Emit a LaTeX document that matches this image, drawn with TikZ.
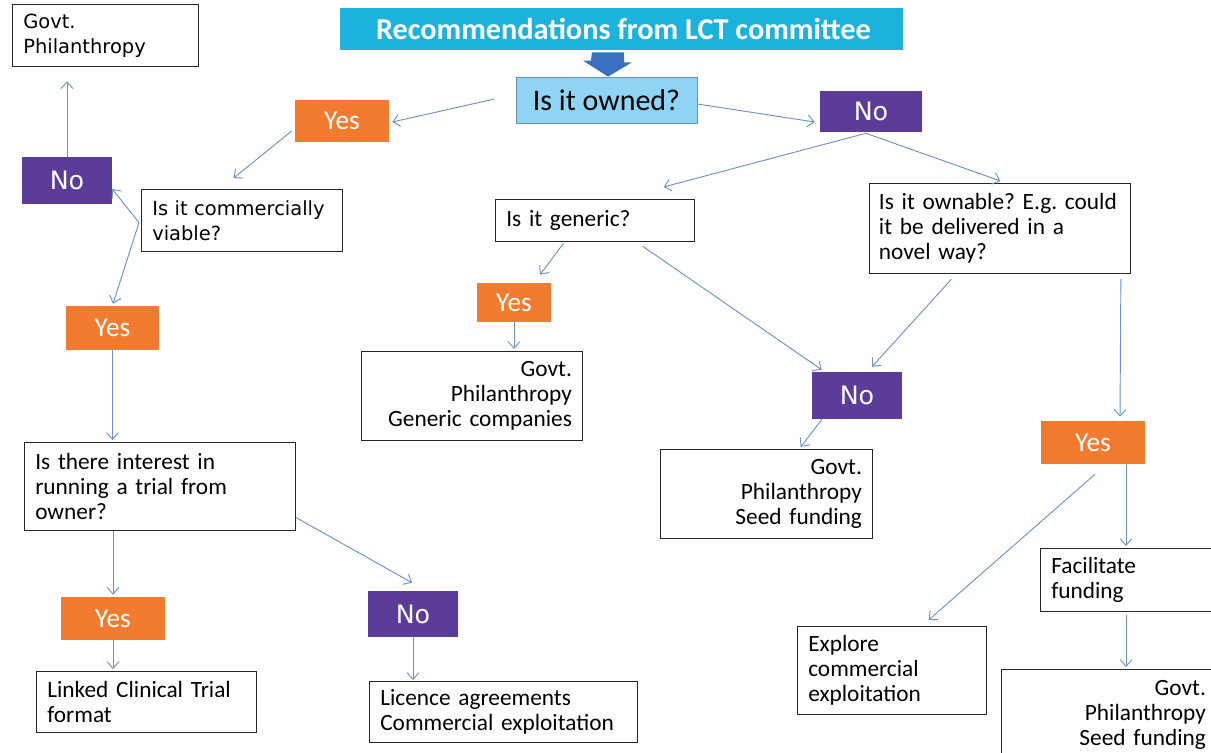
\documentclass[tikz,border=0pt]{standalone}
\usepackage{fontspec}
\setmainfont{Carlito}
\newfontfamily\vfont{DejaVu Sans}
\usetikzlibrary{calc,arrows.meta}
\definecolor{lctcyan}{HTML}{1BB3DB}
\definecolor{ownblue}{HTML}{8FD4F5}
\definecolor{yesorange}{HTML}{F37B2F}
\definecolor{nopurple}{HTML}{5B3C99}
\definecolor{linkblue}{HTML}{6E93C4}
\definecolor{flowblue}{HTML}{3B6FC0}
\frenchspacing

\begin{document}
\begin{tikzpicture}[x=0.75pt,y=-0.75pt,
    txt/.style={draw=black!85, line width=0.9pt, fill=white, anchor=north west, align=left,
      inner xsep=8pt, inner ysep=0pt, font=\fontsize{17.5}{18.75}\selectfont},
    rtxt/.style={txt, align=right},
    vtxt/.style={txt, font=\vfont\fontsize{14.6}{18.75}\selectfont},
    yes/.style={fill=yesorange, text=white, inner sep=0pt, font=\fontsize{20.5}{22}\selectfont},
    no/.style={fill=nopurple, text=white, inner sep=0pt, font=\vfont\fontsize{19}{21}\selectfont},
    link/.style={draw=linkblue, line width=0.7pt, -{Straight Barb[length=5pt,width=9pt]}}]
    \useasboundingbox[fill=white] (0,0) rectangle (1211,753);

    % top
    \node[fill=lctcyan, text=white, minimum width=422.25pt, minimum height=31.5pt,
      font=\bfseries\fontsize{22.7}{24}\selectfont] (lct) at (621.5,29) {\hspace*{3pt}Recommendations from LCT committee};
    \node[fill=ownblue, draw=ownblue!70!black, line width=0.6pt, minimum width=135.75pt, minimum height=34.5pt,
      font=\fontsize{22.5}{24}\selectfont] (owned) at (606.5,100) {Is it owned?};
    \fill[flowblue] ($(lct.south)+(-29.5,2)$) -- ++(32,0) -- ++(0,10) -- ++(8,0)
      -- ($(owned.north)+(1.5,0)$) -- ++(-25,-16) -- ++(8,0) -- cycle;

    % owned: yes
    \node[yes, minimum width=70.5pt, minimum height=31.5pt] (yes1) at (342,121) {Yes};
    \node[vtxt, text width=134.75pt, minimum height=46.5pt] (viable) at (141,189) {Is it commercially\\viable?};
    \node[no, minimum width=67.5pt, minimum height=35.25pt] (no1) at (67,180.5) {No};
    \node[vtxt, text width=123.5pt, minimum height=46.5pt] (govt1) at (12,4) {Govt.\\Philanthropy};
    \node[yes, minimum width=69.75pt, minimum height=33pt] (yes2) at (112.5,328) {Yes};
    \node[txt, text width=187.25pt, minimum height=66pt] (interest) at (24,442) {Is there interest in\\running a trial from\\owner?};
    \node[yes, minimum width=78pt, minimum height=32.25pt] (yes3) at (113,618.5) {Yes};
    \node[txt, text width=149pt, minimum height=45.75pt] (linked) at (36,671) {Linked Clinical Trial\\format};
    \node[no, minimum width=67.5pt, minimum height=34.5pt] (no3) at (413,614) {No};
    \node[txt, text width=185pt, minimum height=45.75pt] (licence) at (369,681) {Licence agreements\\Commercial exploitation};

    % owned: no
    \node[no, minimum width=76.5pt, minimum height=30.75pt] (no2) at (871,111.5) {No};
    \node[txt, text width=133.25pt, minimum height=31.5pt] (generic) at (495,199) {Is it generic?};
    \node[yes, minimum width=55.5pt, minimum height=29.25pt] (yes4) at (514,302.5) {Yes};
    \node[rtxt, text width=149.75pt, minimum height=66.75pt] (govt2) at (361,351) {Govt.\\Philanthropy\\Generic companies};
    \node[txt, text width=181.5pt, inner xsep=7pt, minimum height=67.5pt] (ownable) at (869,183) {Is it ownable? E.g. could\\it be delivered in a\\novel way?};
    \node[no, minimum width=67.5pt, minimum height=35.25pt] (no4) at (857,395.5) {No};
    \node[rtxt, text width=143pt, minimum height=66.75pt] (govt3) at (660,449) {Govt.\\Philanthropy\\Seed funding};
    \node[yes, minimum width=78pt, minimum height=32.25pt] (yes5) at (1093,442.5) {Yes};
    \node[txt, text width=115.25pt, minimum height=47.25pt] (facil) at (1040,548) {Facilitate\\funding};
    \node[txt, text width=125.75pt, minimum height=66pt] (explore) at (797,626) {Explore\\commercial\\exploitation};
    \node[rtxt, text width=145.25pt, minimum height=67.5pt] (govt4) at (1001,669) {Govt.\\Philanthropy\\Seed funding};

    % connectors
    \draw[link] ($(owned.west)+(-21,-1)$) -- ($(yes1.east)+(3,1)$);
    \draw[link] ($(owned.east)+(0,4)$) -- ($(no2.west)+(-5,10.5)$);
    \draw[link] ($(yes1.west)+(-3,10)$) -- ($(viable.north)+(-8.5,-11)$);
    \draw[link] ($(viable.west)+(-2,2)$) -- ($(no1.east)+(0,8.5)$);
    \draw[link] ($(viable.west)+(-2,2)$) -- ($(yes2.north)+(0.5,-2)$);
    \draw[link] (no1.north) -- ($(govt1.south west)+(55,14)$);
    \draw[link] (yes2.south) -- ($(yes2.south |- interest.north)+(0,-2)$);
    \draw[link] (yes3.north |- interest.south) -- ($(yes3.north)+(0,-2)$);
    \draw[link] ($(interest.east)+(0,31)$) -- ($(no3.north)+(-1,-8)$);
    \draw[link] (yes3.south) -- ($(yes3.south |- linked.north)+(0,-2)$);
    \draw[link] (no3.south) -- ($(no3.south |- licence.north)+(0,-1)$);
    \draw[link] ($(no2.south)+(-5,1)$) -- ($(generic.north)+(68.5,-12)$);
    \draw[link] ($(no2.south)+(-5,1)$) -- ($(ownable.north)+(0.5,-2)$);
    \draw[link] ($(generic.south)+(-31.5,1)$) -- ($(yes4.north)+(26,-8)$);
    \draw[link] ($(generic.south)+(47.5,4)$) -- ($(no4.north west)+(10,-2)$);
    \draw[link] ($(ownable.south)+(-48.5,5)$) -- ($(no4.north)+(15,-5)$);
    \draw[link] ($(ownable.south east)+(-10,5)$) -- ($(yes5.north)+(27,-4)$);
    \draw[link] (yes4.south) -- ($(yes4.south |- govt2.north)+(0,-2)$);
    \draw[link] ($(no4.south)+(-35,0)$) -- ($(govt3.north)+(34,-2)$);
    \draw[link] ($(yes5.south)+(2,10)$) -- ($(explore.north)+(36.5,-6)$);
    \draw[link] ($(yes5.south)+(33,0)$) -- ($(facil.north west)+(86,-2)$);
    \draw[link] ($(facil.south west)+(86,3)$) -- ($(govt4.north west)+(125,-2)$);
\end{tikzpicture}
\end{document}
